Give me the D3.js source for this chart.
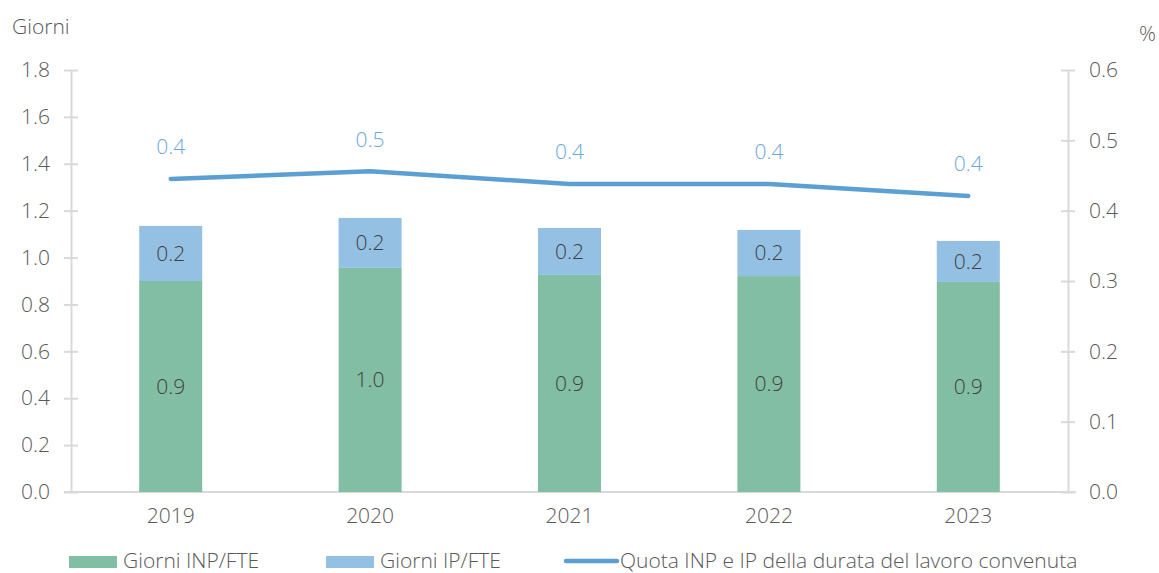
<!DOCTYPE html>
<html><head><meta charset="utf-8">
<script src="https://cdn.jsdelivr.net/npm/d3@7"></script>
<style>
html,body{margin:0;padding:0;background:#fff;}
svg text{font-family:"Open Sans","Noto Sans",sans-serif;font-weight:300;}
</style></head>
<body><svg id="c" width="1159" height="573"></svg>
<script>
const years = ["2019","2020","2021","2022","2023"];
const inp = [0.90, 0.956, 0.926, 0.921, 0.896];
const ip = [0.235, 0.213, 0.200, 0.197, 0.175];
const quota = [0.445, 0.456, 0.438, 0.438, 0.421];
const leftTicks = [0,0.2,0.4,0.6,0.8,1.0,1.2,1.4,1.6,1.8];
const rightTicks = [0,0.1,0.2,0.3,0.4,0.5,0.6];
const legendLabels = ["Giorni INP/FTE","Giorni IP/FTE","Quota INP e IP della durata del lavoro convenuta"];

const cGreen="#82bea3", cBlue="#94c0e3", cLine="#5b9fd3", cLineLbl="#6aa8dc", cText="#595959", cAxis="#d9d9d9";
const FS=21;
const svg=d3.select("#c");
const L=71,R=1068,T=70,B=492;
const x=d3.scaleBand().domain(years).range([L,R]).paddingInner(0.684).paddingOuter(0.342);
const yL=d3.scaleLinear().domain([0,1.8]).range([B,T]);
const yR=d3.scaleLinear().domain([0,0.6]).range([B,T]);

// axes
const gL=svg.append("g").attr("transform",`translate(${L},0)`).call(d3.axisLeft(yL).tickValues(leftTicks).tickFormat(d3.format(".1f")).tickSize(0).tickPadding(21));
const gR=svg.append("g").attr("transform",`translate(${R},0)`).call(d3.axisRight(yR).tickValues(rightTicks).tickFormat(d3.format(".1f")).tickSize(0).tickPadding(21));
[gL,gR].forEach(g=>{
  g.select(".domain").attr("stroke",cAxis).attr("stroke-width",2);
  g.selectAll(".tick line").attr("x1",-7).attr("x2",7).attr("stroke",cAxis).attr("stroke-width",2);
  g.selectAll(".tick text").attr("fill",cText).attr("font-size",FS).attr("font-family","'Open Sans',sans-serif");
});
const gX=svg.append("g").attr("transform",`translate(0,${B})`).call(d3.axisBottom(x).tickSize(0).tickPadding(16));
gX.select(".domain").attr("d",`M${L-7},0H${R+8}`).attr("stroke",cAxis).attr("stroke-width",2);
gX.selectAll(".tick text").attr("fill",cText).attr("font-size",FS).attr("font-family","'Open Sans',sans-serif");

// bars
const bw=x.bandwidth();
svg.append("g").selectAll("rect").data(years).join("rect")
 .attr("x",d=>x(d)).attr("width",bw)
 .attr("y",(d,i)=>yL(inp[i])).attr("height",(d,i)=>yL(0)-yL(inp[i])).attr("fill",cGreen);
svg.append("g").selectAll("rect").data(years).join("rect")
 .attr("x",d=>x(d)).attr("width",bw)
 .attr("y",(d,i)=>yL(inp[i]+ip[i])).attr("height",(d,i)=>yL(inp[i])-yL(inp[i]+ip[i])).attr("fill",cBlue);

// bar labels
svg.append("g").selectAll("text").data(years).join("text")
 .attr("x",d=>x(d)+bw/2).attr("y",(d,i)=>(yL(inp[i])+yL(0))/2).attr("dy","0.35em")
 .attr("text-anchor","middle").attr("font-size",FS).attr("fill","#404040")
 .text((d,i)=>d3.format(".1f")(inp[i]));
svg.append("g").selectAll("text").data(years).join("text")
 .attr("x",d=>x(d)+bw/2).attr("y",(d,i)=>(yL(inp[i])+yL(inp[i]+ip[i]))/2).attr("dy","0.35em")
 .attr("text-anchor","middle").attr("font-size",FS).attr("fill","#404040")
 .text((d,i)=>d3.format(".1f")(ip[i]));

// line
const line=d3.line().x((d,i)=>x(years[i])+bw/2).y(d=>yR(d));
svg.append("path").datum(quota).attr("d",line).attr("fill","none").attr("stroke",cLine).attr("stroke-width",4.5).attr("stroke-linecap","round").attr("stroke-linejoin","round");
svg.append("g").selectAll("text").data(quota).join("text")
 .attr("x",(d,i)=>x(years[i])+bw/2).attr("y",d=>yR(d)-32).attr("dy","0.35em")
 .attr("text-anchor","middle").attr("font-size",FS).attr("fill",cLineLbl)
 .text(d=>d3.format(".1f")(d));

// axis titles
svg.append("text").attr("x",12).attr("y",34).attr("font-size",FS).attr("fill",cText).text("Giorni");
svg.append("text").attr("x",1156).attr("y",41).attr("text-anchor","end").attr("font-size",FS).attr("fill",cText).text("%");

// legend
const ly=561;
const leg=svg.append("g");
leg.append("rect").attr("x",69).attr("y",ly-5).attr("width",48).attr("height",12).attr("fill",cGreen);
leg.append("rect").attr("x",326).attr("y",ly-5).attr("width",48).attr("height",12).attr("fill",cBlue);
leg.append("line").attr("x1",566).attr("x2",617).attr("y1",ly).attr("y2",ly).attr("stroke",cLine).attr("stroke-width",4.5).attr("stroke-linecap","round");
const lx=[123,380,620], lw=[136,130,473];
legendLabels.forEach((t,i)=>{
  const el=leg.append("text").attr("x",lx[i]).attr("y",ly).attr("dy","0.33em").attr("font-size",FS).attr("fill",cText).text(t);
  const w=el.node().getComputedTextLength();
  if(w>lw[i]) el.attr("textLength",lw[i]).attr("lengthAdjust","spacingAndGlyphs");
});
</script></body></html>
